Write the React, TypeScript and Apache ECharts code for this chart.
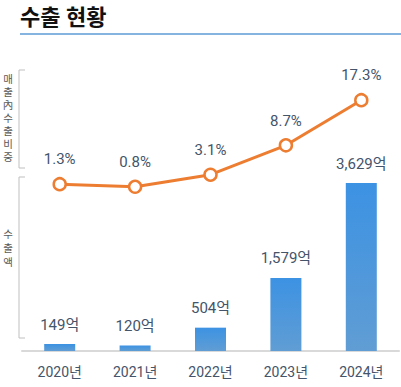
import React, { useEffect, useRef } from "react";
import * as echarts from "echarts";

const categories = ["2020년", "2021년", "2022년", "2023년", "2024년"];
const exportAmount = [149, 120, 504, 1579, 3629];
const exportRatio = [1.3, 0.8, 3.1, 8.7, 17.3];
const titleText = "수출 현황";
const ratioAxisName = "매출內수출비중";
const amountAxisName = "수출액";

const FONT = "Roboto, 'Noto Sans CJK KR', sans-serif";
const LABEL_COLOR = "#44546A";

export default function App() {
  const ref = useRef<HTMLDivElement>(null);
  useEffect(() => {
    document.body.style.margin = "0";
    const chart = echarts.init(ref.current!, null, { renderer: "svg" });
    chart.setOption({
      animation: false,
      backgroundColor: "#ffffff",
      textStyle: { fontFamily: FONT },
      grid: [
        { left: 22, right: 2, top: 183, bottom: 36 },
        { left: 22, right: 2, top: 86, bottom: 196 },
      ],
      xAxis: [
        {
          type: "category",
          gridIndex: 0,
          data: categories,
          axisLine: { lineStyle: { color: "#D9D9D9", width: 2 } },
          axisTick: { show: false },
          axisLabel: { color: LABEL_COLOR, fontSize: 14, margin: 14, fontFamily: FONT },
        },
        {
          type: "category",
          gridIndex: 1,
          data: categories,
          show: false,
        },
      ],
      yAxis: [
        { type: "value", gridIndex: 0, min: 0, max: 3629, show: false, splitLine: { show: false } },
        { type: "value", gridIndex: 1, min: 0, max: 20, show: false, splitLine: { show: false } },
      ],
      series: [
        {
          type: "bar",
          xAxisIndex: 0,
          yAxisIndex: 0,
          data: exportAmount,
          barWidth: 31,
          itemStyle: {
            color: new echarts.graphic.LinearGradient(0, 0, 0, 1, [
              { offset: 0, color: "#3C92E3" },
              { offset: 1, color: "#609DD4" },
            ]),
          },
          label: {
            show: true,
            position: "top",
            distance: 12,
            color: LABEL_COLOR,
            fontSize: 15,
            fontFamily: FONT,
            formatter: (p: any) => p.value.toLocaleString("en-US") + "억",
          },
        },
        {
          type: "line",
          xAxisIndex: 1,
          yAxisIndex: 1,
          data: exportRatio,
          lineStyle: { color: "#ED7D31", width: 3 },
          symbol: "circle",
          symbolSize: 12,
          itemStyle: { color: "#ffffff", borderColor: "#ED7D31", borderWidth: 2.5 },
          label: {
            show: true,
            position: "top",
            distance: 10,
            color: LABEL_COLOR,
            fontSize: 15,
            fontFamily: FONT,
            formatter: (p: any) => p.value + "%",
          },
        },
      ],
      graphic: [
        {
          type: "text",
          left: 20,
          top: 6,
          style: { text: titleText, fontSize: 22, fontWeight: "bold", fill: "#111111", fontFamily: FONT },
        },
        {
          type: "line",
          shape: { x1: 20, y1: 34, x2: 401, y2: 34 },
          style: { stroke: "#5B9BD5", lineWidth: 1.5 },
        },
        {
          type: "polyline",
          shape: { points: [[25, 70], [19, 70], [19, 168], [25, 168]] },
          style: { stroke: "#BFBFBF", lineWidth: 1, fill: null },
        },
        {
          type: "polyline",
          shape: { points: [[25, 177], [19, 177], [19, 338], [25, 338]] },
          style: { stroke: "#BFBFBF", lineWidth: 1, fill: null },
        },
        {
          type: "text",
          x: 8,
          y: 118,
          style: {
            text: ratioAxisName.split("").join("\n"),
            fontSize: 10.5,
            lineHeight: 13,
            fill: "#595959",
            align: "center",
            verticalAlign: "middle",
            fontFamily: FONT,
          },
        },
        {
          type: "text",
          x: 8,
          y: 248,
          style: {
            text: amountAxisName.split("").join("\n"),
            fontSize: 10.5,
            lineHeight: 14,
            fill: "#595959",
            align: "center",
            verticalAlign: "middle",
            fontFamily: FONT,
          },
        },
      ],
    });
    return () => chart.dispose();
  }, []);
  return (
    <div
      ref={ref}
      style={{ position: "absolute", left: 0, top: 0, width: 401, height: 387 }}
    />
  );
}
